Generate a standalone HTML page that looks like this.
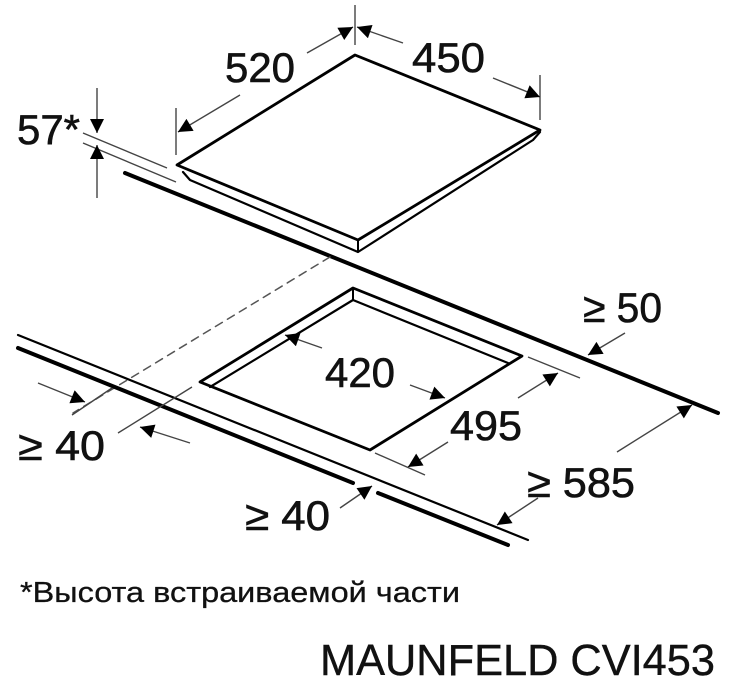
<!DOCTYPE html>
<html><head><meta charset="utf-8"><style>
html,body{margin:0;padding:0;background:#fff;}
svg{display:block;}
text{font-family:"Liberation Sans","Noto Sans CJK SC",sans-serif;fill:#111;stroke:#111;stroke-width:0.6;}
</style></head><body>
<svg width="739" height="686" viewBox="0 0 739 686" xmlns="http://www.w3.org/2000/svg">
<defs>
<marker id="a" viewBox="0 0 10 10" refX="10" refY="5" markerWidth="20" markerHeight="14" markerUnits="userSpaceOnUse" orient="auto"><path d="M0,0 L10,5 L0,10 z" fill="#000"/></marker>
</defs>
<g fill="none" stroke="#000" stroke-linecap="round" stroke-linejoin="round">
<path d="M355,55 L540,130 L358,240 L177,165 Z" stroke-width="2.8"/>
<path d="M183,172 L190,180 L358,252 L533,140 L540,132" stroke-width="2.2"/>
<path d="M358,240 L358,252" stroke-width="2"/>
<path d="M125,173 L718,413" stroke-width="4"/>
<path d="M330,257 L73,413" stroke="#555" stroke-width="1.5" stroke-dasharray="8,6"/>
<path d="M353,288 L522,356 L370,450 L200,382 Z" stroke-width="2.8"/>
<path d="M210,387 L353,300 L508,363" stroke-width="2.2"/>
<path d="M353,288 L353,300" stroke-width="2"/>
<path d="M18,335 L528,540" stroke-width="2.2"/>
<path d="M18,348 L353,483" stroke-width="4"/>
<path d="M378,493 L508,545" stroke-width="4"/>
</g>
<g fill="none" stroke="#444" stroke-width="1.4">
<path d="M83,133 L167,168 M83,143 L176,182"/>
<path d="M97,88 L97,133" marker-end="url(#a)"/>
<path d="M97,198 L97,145" marker-end="url(#a)"/>
<path d="M176,108 L176,155 M355,5 L355,45 M540,75 L540,120"/>
<path d="M240,95 L178,132" marker-end="url(#a)"/>
<path d="M307,53 L353,27" marker-end="url(#a)"/>
<path d="M403,43 L357,27" marker-end="url(#a)"/>
<path d="M493,78 L540,97" marker-end="url(#a)"/>
<path d="M322,348 L285,335" marker-end="url(#a)"/>
<path d="M410,385 L445,398" marker-end="url(#a)"/>
<path d="M528,357 L580,378 M375,453 L425,475"/>
<path d="M518,398 L558,373" marker-end="url(#a)"/>
<path d="M448,442 L408,467" marker-end="url(#a)"/>
<path d="M625,333 L588,355" marker-end="url(#a)"/>
<path d="M617,452 L692,405" marker-end="url(#a)"/>
<path d="M538,498 L497,525" marker-end="url(#a)"/>
<path d="M72,415 L112,388 M118,433 L192,387"/>
<path d="M38,383 L85,402" marker-end="url(#a)"/>
<path d="M190,443 L140,427" marker-end="url(#a)"/>
<path d="M340,508 L372,486" marker-end="url(#a)"/>
</g>
<g font-size="42">
<text x="225" y="82" textLength="70" lengthAdjust="spacingAndGlyphs">520</text>
<text x="412" y="72" textLength="73" lengthAdjust="spacingAndGlyphs">450</text>
<text x="17" y="144" textLength="63" lengthAdjust="spacingAndGlyphs">57*</text>
<text x="583" y="322" textLength="79" lengthAdjust="spacingAndGlyphs">≥ 50</text>
<text x="325" y="387" textLength="70" lengthAdjust="spacingAndGlyphs">420</text>
<text x="450" y="440" textLength="72" lengthAdjust="spacingAndGlyphs">495</text>
<text x="18" y="460" textLength="87" lengthAdjust="spacingAndGlyphs">≥ 40</text>
<text x="527" y="497" textLength="108" lengthAdjust="spacingAndGlyphs">≥ 585</text>
<text x="245" y="530" textLength="85" lengthAdjust="spacingAndGlyphs">≥ 40</text>
</g>
<text x="20" y="602" font-size="29" textLength="440" lengthAdjust="spacingAndGlyphs" style="stroke-width:0.3">*Высота встраиваемой части</text>
<text x="320" y="675" font-size="44" textLength="395" lengthAdjust="spacingAndGlyphs" style="stroke-width:0.4">MAUNFELD CVI453</text>
</svg>
</body></html>
